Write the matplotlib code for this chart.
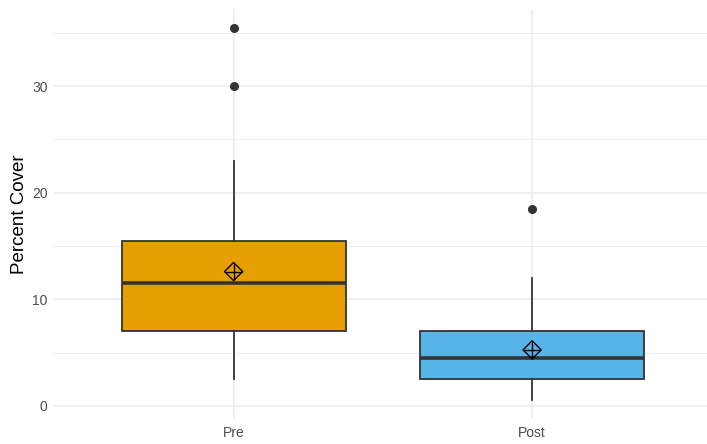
import matplotlib
matplotlib.use("Agg")
import matplotlib.pyplot as plt

plt.rcParams['font.family'] = ['Liberation Sans', 'DejaVu Sans']

# summary stats per period (percent cover)
groups = ["Pre", "Post"]
q1 = [7.0, 2.5]
medians = [11.5, 4.5]
q3 = [15.5, 7.0]
whislo = [2.5, 0.5]
whishi = [23.0, 12.0]
means = [12.6, 5.25]
outliers = [[30.0, 35.5], [18.5]]
fills = ["#E69F00", "#56B4E9"]

stats = []
for i, g in enumerate(groups):
    stats.append(dict(label=g, q1=q1[i], med=medians[i], q3=q3[i],
                      whislo=whislo[i], whishi=whishi[i], fliers=outliers[i]))

fig = plt.figure(figsize=(7.07, 4.44), dpi=100)
ax = fig.add_axes([0.077, 0.056, 0.929, 0.924])

pos = [1, 2]
bp = ax.bxp(stats, positions=pos, widths=0.75, patch_artist=True, showcaps=False,
            boxprops=dict(edgecolor="#333333", linewidth=1.3),
            medianprops=dict(color="#333333", linewidth=2.6, solid_capstyle="butt"),
            whiskerprops=dict(color="#333333", linewidth=1.3),
            flierprops=dict(marker="o", markerfacecolor="#333333", markeredgecolor="#333333",
                            markersize=5.5, linestyle="none"),
            zorder=3)
for patch, c in zip(bp["boxes"], fills):
    patch.set_facecolor(c)

# mean markers: diamond with a cross
ax.scatter(pos, means, marker="D", s=85, facecolors="none", edgecolors="black",
           linewidths=1.0, zorder=5)
ax.scatter(pos, means, marker="+", s=125, color="black", linewidths=1.0, zorder=5)

ax.set_xlim(0.4, 2.6)
ax.set_ylim(-1.25, 37.25)
ax.set_xticks(pos)
ax.set_xticklabels(groups)
ax.set_yticks([0, 10, 20, 30])
ax.set_yticks([5, 15, 25, 35], minor=True)

ax.grid(which="major", color="#EBEBEB", linewidth=1.1, zorder=0)
ax.grid(which="minor", axis="y", color="#EBEBEB", linewidth=0.6, zorder=0)
ax.set_axisbelow(True)
for s in ax.spines.values():
    s.set_visible(False)
ax.tick_params(which="both", length=0, labelsize=10, labelcolor="#4D4D4D", pad=5)

ax.set_ylabel("Percent Cover", fontsize=13.5, color="black", labelpad=3)
ax.set_xlabel("")

fig.savefig("out.png", dpi=100)
